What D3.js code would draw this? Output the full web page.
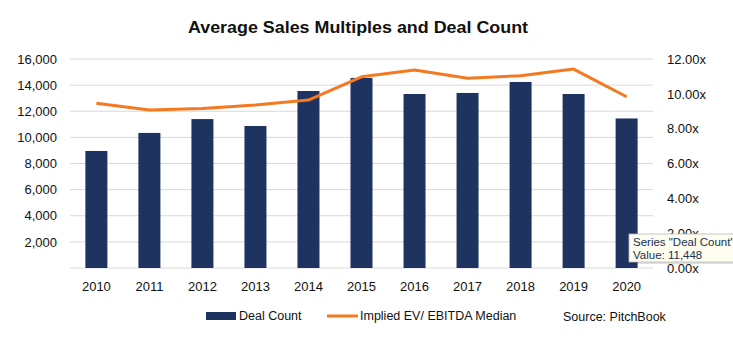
<!DOCTYPE html>
<html>
<head>
<meta charset="utf-8">
<script src="https://cdn.jsdelivr.net/npm/d3@7"></script>
<style>
  body { margin: 0; background: #fff; }
  text { font-family: "Liberation Sans", Arial, sans-serif; fill: #111; }
  .grid line { stroke: #d9d9d9; stroke-width: 1; }
  .axis text { font-size: 13px; }
  .legend text { font-size: 12.5px; }
</style>
</head>
<body>
<div id="chart"></div>
<script>
// Data
const years = ["2010", "2011", "2012", "2013", "2014", "2015", "2016", "2017", "2018", "2019", "2020"];
const dealCount = [8960, 10340, 11400, 10870, 13550, 14550, 13320, 13400, 14240, 13320, 11448];
const evEbitda = [9.46, 9.07, 9.16, 9.36, 9.64, 10.98, 11.37, 10.89, 11.04, 11.42, 9.83];
const leftTicks = [0, 2000, 4000, 6000, 8000, 10000, 12000, 14000, 16000];
const rightTicks = [0, 2, 4, 6, 8, 10, 12];

const W = 733, H = 351;
const margin = { top: 59, right: 80, bottom: 83, left: 70 };
const width = W - margin.left - margin.right;
const height = H - margin.top - margin.bottom;

const svg = d3.select("#chart").append("svg")
  .attr("width", W).attr("height", H);

const g = svg.append("g")
  .attr("transform", "translate(" + margin.left + "," + margin.top + ")");

// Scales
const x = d3.scaleBand().domain(years).range([0, width]).paddingInner(0.585).paddingOuter(0.29);
const yL = d3.scaleLinear().domain([0, 16000]).range([height, 0]);
const yR = d3.scaleLinear().domain([0, 12]).range([height, 0]);

// Gridlines
g.append("g").attr("class", "grid")
  .selectAll("line").data(leftTicks).join("line")
  .attr("x1", 0).attr("x2", width)
  .attr("y1", d => yL(d)).attr("y2", d => yL(d));

// Left axis
const leftAxis = g.append("g").attr("class", "axis")
  .call(d3.axisLeft(yL).tickValues(leftTicks.filter(d => d > 0)).tickSize(0).tickPadding(13)
    .tickFormat(d3.format(",")));
leftAxis.select(".domain").remove();

// Right axis
const rightAxis = g.append("g").attr("class", "axis")
  .attr("transform", "translate(" + width + ",0)")
  .call(d3.axisRight(yR).tickValues(rightTicks).tickSize(0).tickPadding(14)
    .tickFormat(d => d3.format(".2f")(d) + "x"));
rightAxis.select(".domain").remove();

// Bottom axis
const bottomAxis = g.append("g").attr("class", "axis")
  .attr("transform", "translate(0," + height + ")")
  .call(d3.axisBottom(x).tickSize(0).tickPadding(14));
bottomAxis.select(".domain").remove();

// Bars
g.selectAll("rect.bar").data(years).join("rect")
  .attr("class", "bar")
  .attr("x", d => x(d))
  .attr("width", x.bandwidth())
  .attr("y", (d, i) => yL(dealCount[i]))
  .attr("height", (d, i) => height - yL(dealCount[i]))
  .attr("fill", "#1f3361");

// Line
const line = d3.line()
  .x((d, i) => x(years[i]) + x.bandwidth() / 2)
  .y(d => yR(d));
g.append("path").datum(evEbitda)
  .attr("d", line)
  .attr("fill", "none")
  .attr("stroke", "#f47920")
  .attr("stroke-width", 3)
  .attr("stroke-linejoin", "round");

// Title
svg.append("text")
  .attr("x", 358).attr("y", 33)
  .attr("text-anchor", "middle")
  .attr("textLength", 340).attr("lengthAdjust", "spacingAndGlyphs")
  .style("font-size", "16px").style("font-weight", "bold")
  .text("Average Sales Multiples and Deal Count");

// Legend
const legend = svg.append("g").attr("class", "legend");
legend.append("rect").attr("x", 206).attr("y", 312).attr("width", 30).attr("height", 8).attr("fill", "#1f3361");
legend.append("text").attr("x", 239).attr("y", 320).text("Deal Count");
legend.append("line").attr("x1", 327).attr("x2", 358).attr("y1", 316).attr("y2", 316)
  .attr("stroke", "#f47920").attr("stroke-width", 3);
legend.append("text").attr("x", 360).attr("y", 320).text("Implied EV/ EBITDA Median");
legend.append("text").attr("x", 563).attr("y", 321).text("Source: PitchBook");

// Tooltip shown over the 2020 bar
const tip = svg.append("g").attr("transform", "translate(629,234)");
tip.append("rect").attr("x", 2).attr("y", 2).attr("width", 110).attr("height", 28)
  .attr("fill", "#000").attr("opacity", 0.12);
tip.append("rect").attr("width", 110).attr("height", 28)
  .attr("fill", "#fdfdf0").attr("stroke", "#b8b8b8").attr("stroke-width", 0.8);
tip.append("text").attr("x", 4).attr("y", 12).style("font-size", "11.5px").style("fill", "#1f2f4f")
  .text("Series \"" + "Deal Count" + "\"");
tip.append("text").attr("x", 4).attr("y", 25).style("font-size", "11.5px").style("fill", "#1f2f4f")
  .text("Value: " + d3.format(",")(dealCount[dealCount.length - 1]));
</script>
</body>
</html>
